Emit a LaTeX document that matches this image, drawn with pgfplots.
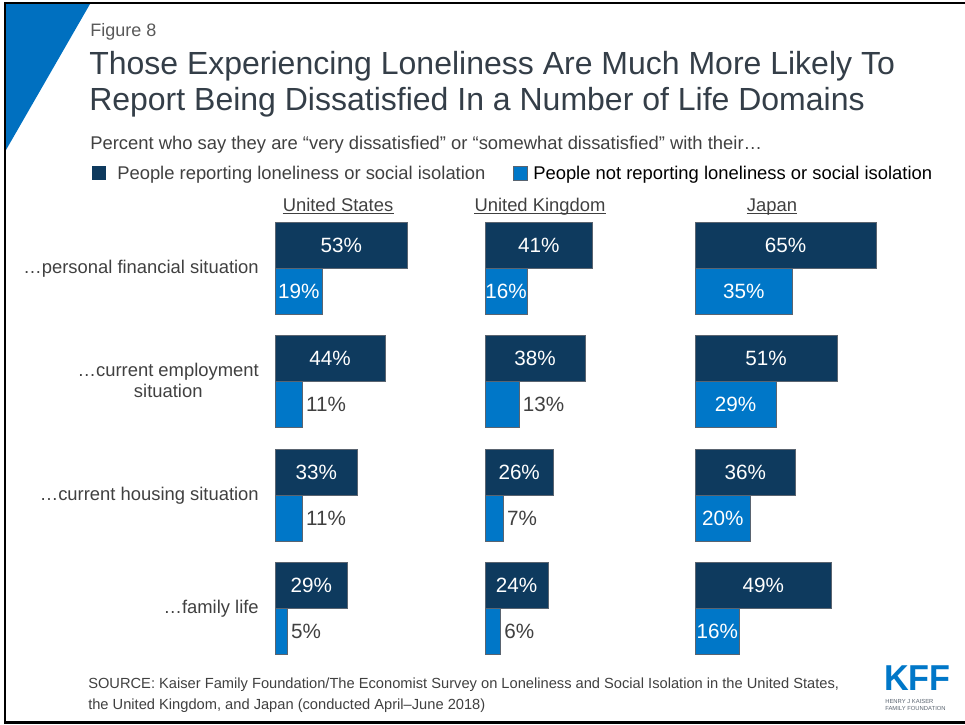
\documentclass[border=0pt]{standalone}
\usepackage{pgfplots}
\pgfplotsset{compat=1.18}
\usepackage{pgfplotstable}
\usepackage{fontspec}
\setmainfont{Liberation Sans}
\definecolor{kdark}{RGB}{14,58,94}
\definecolor{klight}{RGB}{0,119,200}
\definecolor{ktri}{RGB}{0,112,192}
\definecolor{kedge}{RGB}{90,100,112}
\definecolor{ktext}{RGB}{64,64,64}
\definecolor{ktitle}{RGB}{52,62,72}
\definecolor{kgrey}{RGB}{89,89,89}

% columns: dissatisfied share, lonely (dark) vs not lonely (light)
\pgfplotstableread{
cat dark light
fin 53 19
emp 44 11
hou 33 11
fam 29 5
}\US
\pgfplotstableread{
cat dark light
fin 41 16
emp 38 13
hou 26 7
fam 24 6
}\UK
\pgfplotstableread{
cat dark light
fin 65 35
emp 51 29
hou 36 20
fam 49 16
}\JP

\newcommand{\vallab}{\fontsize{15.5}{18}\selectfont}
\newcommand{\txt}{\fontsize{13.8}{16.5}\selectfont}

\pgfplotsset{
  panel/.style={hide axis, scale only axis, x=#1, y=0.75pt, y dir=reverse,
    xmin=0, xmax=75, ymin=200, ymax=670, clip=false, anchor=north west,
    /pgf/number format/assume math mode=true},
  darkbar/.style={xbar, bar width=46, bar shift=0pt, fill=kdark, draw=kedge, line width=0.6pt},
  lightbar/.style={xbar, bar width=46, bar shift=0pt, fill=klight, draw=kedge, line width=0.6pt},
  inlab/.style={draw=none, mark=none, point meta=explicit,
    nodes near coords={\pgfmathprintnumber[assume math mode=true]{\pgfplotspointmeta}\%},
    every node near coord/.append style={anchor=center, text=white, font=\vallab, inner sep=0pt}},
  outlab/.style={draw=none, mark=none, point meta=explicit,
    nodes near coords={\pgfmathprintnumber[assume math mode=true]{\pgfplotspointmeta}\%},
    every node near coord/.append style={anchor=west, text=ktext, font=\vallab, inner sep=0pt, xshift=2.5pt}},
}

\newcommand{\panel}[1]{%
  \addplot[darkbar] table[x=dark, y expr=\coordindex*113.3+245.5]{#1};
  \addplot[lightbar] table[x=light, y expr=\coordindex*113.3+291.5]{#1};
  \addplot[inlab] table[x expr=\thisrow{dark}/2, y expr=\coordindex*113.3+245.5, meta=dark]{#1};
  \addplot[inlab, restrict x to domain=7.5:100] table[x expr=\thisrow{light}/2, y expr=\coordindex*113.3+291.5, meta=light]{#1};
  \addplot[outlab, restrict x to domain=0:14] table[x=light, y expr=\coordindex*113.3+291.5, meta=light]{#1};
}

\begin{document}
\begin{tikzpicture}[x=0.75pt, y=-0.75pt]
\path[use as bounding box] (0,0) rectangle (965,725);
% frame and triangle
\fill[ktri] (6,4) -- (90,4) -- (6,150) -- cycle;
\draw[black, line width=1.9pt] (966,2.8) -- (4.8,2.8) -- (4.8,722.3) -- (966,722.3);

% titles
\node[anchor=base west, inner sep=0, text=kgrey, font=\fontsize{13.5}{16}\selectfont] at (90,36) {Figure 8};
\node[anchor=base west, inner sep=0, text=ktitle, font=\fontsize{24}{28}\selectfont] at (89,74) {Those Experiencing Loneliness Are Much More Likely To};
\node[anchor=base west, inner sep=0, text=ktitle, font=\fontsize{24}{28}\selectfont] at (89,110.5) {Report Being Dissatisfied In a Number of Life Domains};
\node[anchor=base west, inner sep=0, text=ktext, font=\txt] at (90,149) {Percent who say they are “very dissatisfied” or “somewhat dissatisfied” with their…};

% legend
\fill[kdark] (92,166) rectangle (106,180);
\node[anchor=base west, inner sep=0, text=ktext, font=\txt] at (117,179) {People reporting loneliness or social isolation};
\fill[klight] (513,166) rectangle (527,180);
\draw[kedge, line width=0.4pt] (513,166) rectangle (527,180);
\node[anchor=base west, inner sep=0, text=black, font=\txt] at (533,179) {People not reporting loneliness or social isolation};

% country headers
\foreach \cx/\name [count=\i] in {338/United States, 540/United Kingdom, 772/Japan}{
  \node[anchor=base, inner sep=0, text=ktext, font=\txt] (h\i) at (\cx,211) {\name};
  \draw[ktext, line width=0.7pt] ([yshift=-1.6pt]h\i.base west) -- ([yshift=-1.6pt]h\i.base east);
}

% category labels
\node[anchor=base east, inner sep=0, text=ktext, font=\txt] at (259,273) {…personal financial situation};
\node[anchor=base east, inner sep=0, text=ktext, font=\txt] (e1) at (259,376) {…current employment};
\node[anchor=base, inner sep=0, text=ktext, font=\txt] at ([yshift=-15.75pt]e1.base) {situation};
\node[anchor=base east, inner sep=0, text=ktext, font=\txt] at (259,500) {…current housing situation};
\node[anchor=base east, inner sep=0, text=ktext, font=\txt] at (259,613) {…family life};

% panels
\begin{axis}[panel=1.875pt, at={(206.25pt,-150pt)}]
\panel{\US}
\end{axis}
\begin{axis}[panel=1.9725pt, at={(363.75pt,-150pt)}]
\panel{\UK}
\end{axis}
\begin{axis}[panel=2.0925pt, at={(521.25pt,-150pt)}]
\panel{\JP}
\end{axis}

% source
\node[anchor=base west, inner sep=0, text=ktext, font=\fontsize{11}{13}\selectfont] at (88,688) {SOURCE: Kaiser Family Foundation/The Economist Survey on Loneliness and Social Isolation in the United States,};
\node[anchor=base west, inner sep=0, text=ktext, font=\fontsize{11}{13}\selectfont] at (88,709) {the United Kingdom, and Japan (conducted April–June 2018)};

% logo
\node[anchor=base west, inner sep=0, text=klight, font=\fontsize{27}{29}\selectfont\bfseries, xscale=0.95] at (884,690) {KFF};
\node[anchor=north west, inner sep=0, align=left, text=kedge, font=\fontsize{4.4}{5.2}\selectfont] at (885,699) {HENRY J KAISER\\FAMILY FOUNDATION};
\end{tikzpicture}
\end{document}
